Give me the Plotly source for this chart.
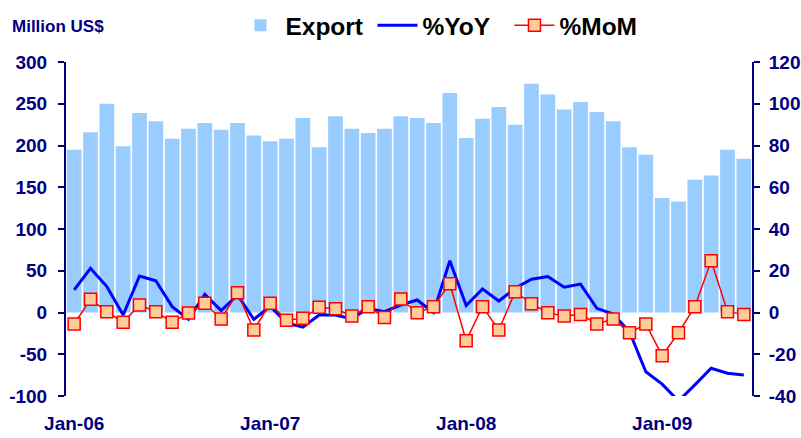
import plotly.graph_objects as go

months = ["Jan-06","Feb-06","Mar-06","Apr-06","May-06","Jun-06","Jul-06","Aug-06","Sep-06","Oct-06","Nov-06","Dec-06",
          "Jan-07","Feb-07","Mar-07","Apr-07","May-07","Jun-07","Jul-07","Aug-07","Sep-07","Oct-07","Nov-07","Dec-07",
          "Jan-08","Feb-08","Mar-08","Apr-08","May-08","Jun-08","Jul-08","Aug-08","Sep-08","Oct-08","Nov-08","Dec-08",
          "Jan-09","Feb-09","Mar-09","Apr-09","May-09","Jun-09"]

export = [195, 216, 250, 199, 239, 229, 208, 220, 227, 219, 227, 212,
          205, 208, 233, 198, 235, 220, 215, 220, 235, 233, 227, 263,
          209, 232, 246, 225, 274, 261, 243, 252, 240, 229, 198, 189,
          137, 133, 159, 164, 195, 184]

yoy = [10.8, 21.2, 12.4, -1.2, 17.5, 15.2, 2.8, -3.3, 8.7, 0.9, 8.4, -3.3,
       3.0, -5.0, -7.0, -1.2, -1.2, -3.1, 2.0, 0.4, 3.6, 6.0, 0.0, 24.8,
       3.3, 11.3, 5.5, 11.6, 15.9, 17.2, 12.1, 13.6, 2.0, -0.7, -9.2, -28.4,
       -34.3, -42.4, -34.7, -26.7, -29.1, -29.9]

mom = [-5.5, 6.3, 0.4, -4.7, 3.6, 0.4, -4.7, -0.2, 4.4, -3.1, 9.5, -8.4,
       4.4, -3.7, -2.8, 2.5, 1.8, -1.7, 2.8, -2.4, 6.5, -0.1, 2.8, 13.8,
       -13.5, 2.8, -8.4, 10.0, 4.2, -0.1, -1.7, -0.9, -5.5, -3.1, -9.7, -5.5,
       -20.7, -9.7, 2.8, 24.8, 0.4, -0.9]

left_ticks = [-100, -50, 0, 50, 100, 150, 200, 250, 300]
right_ticks = [-40, -20, 0, 20, 40, 60, 80, 100, 120]

NAVY = "#000080"
FONT = "Liberation Sans, Arial, sans-serif"

xi = list(range(len(months)))
jan_idx = [i for i, m in enumerate(months) if m.startswith("Jan")]
boundary_ticks = [i - 0.5 for i in range(6, len(months), 6)]

fig = go.Figure()
fig.add_trace(go.Bar(x=xi, y=export, name="Export", marker=dict(color="#99CCFF", line=dict(width=0)),
                     yaxis="y", xaxis="x"))
fig.add_trace(go.Scatter(x=xi, y=yoy, name="%YoY", mode="lines",
                         line=dict(color="#0000FF", width=3), yaxis="y2", xaxis="x"))
fig.add_trace(go.Scatter(x=xi, y=mom, name="%MoM", mode="lines+markers",
                         line=dict(color="#FF0000", width=1.5),
                         marker=dict(symbol="square", size=12, color="#FFCC99",
                                     line=dict(color="#FF0000", width=1.5)),
                         yaxis="y2", xaxis="x"))

xr = [-0.5, len(months) - 0.5]
tickfont = dict(family=FONT, size=19, color=NAVY, weight="bold")

fig.update_layout(
    width=801, height=438,
    margin=dict(l=66, r=49, t=62, b=42, autoexpand=False),
    paper_bgcolor="white", plot_bgcolor="white",
    bargap=0.1,
    showlegend=True,
    legend=dict(orientation="h", x=0.247, xanchor="left", y=1.177, yanchor="top",
                font=dict(family=FONT, size=24.5, color="black", weight="bold"),
                bgcolor="rgba(0,0,0,0)", traceorder="normal", itemwidth=40,
                entrywidth=82, entrywidthmode="pixels"),
    xaxis=dict(range=xr, tickmode="array", tickvals=jan_idx,
               ticktext=[months[i] for i in jan_idx], ticks="", showline=False,
               showgrid=False, zeroline=False, tickfont=tickfont, ticklabelstandoff=14),
    xaxis2=dict(range=xr, overlaying="x", anchor="free", position=0.25, side="bottom",
                tickmode="array", tickvals=boundary_ticks, ticks="outside", ticklen=6,
                tickwidth=1.5, tickcolor=NAVY, showticklabels=False, showline=True,
                linecolor=NAVY, linewidth=1.5, showgrid=False, zeroline=False),
    xaxis3=dict(range=xr, overlaying="x", anchor="free", position=0.25, side="top",
                tickmode="array", tickvals=boundary_ticks, ticks="outside", ticklen=6,
                tickwidth=1.5, tickcolor=NAVY, showticklabels=False, showline=False,
                showgrid=False, zeroline=False),
    yaxis=dict(range=[-100, 300], tickmode="array", tickvals=left_ticks,
               ticktext=[str(v) for v in left_ticks], ticks="outside", ticklen=6,
               tickwidth=1.5, tickcolor=NAVY, showline=True, linecolor=NAVY, linewidth=2,
               showgrid=False, zeroline=False, tickfont=tickfont, ticklabelstandoff=7),
    yaxis2=dict(range=[-40, 120], overlaying="y", side="right", tickmode="array",
                tickvals=right_ticks, ticktext=[str(v) for v in right_ticks],
                ticks="outside", ticklen=6, tickwidth=1.5, tickcolor=NAVY, showline=True,
                linecolor=NAVY, linewidth=2, showgrid=False, zeroline=False, tickfont=tickfont,
                ticklabelstandoff=5),
    annotations=[dict(text="Million US$", xref="paper", yref="paper", x=-0.081, y=1.105,
                      xanchor="left", yanchor="middle", showarrow=False,
                      font=dict(family=FONT, size=17, color=NAVY, weight="bold"))],
)

fig.write_html("out.html", config={"displayModeBar": False},
               post_script="document.body.style.margin='0';document.body.style.overflow='hidden';")
